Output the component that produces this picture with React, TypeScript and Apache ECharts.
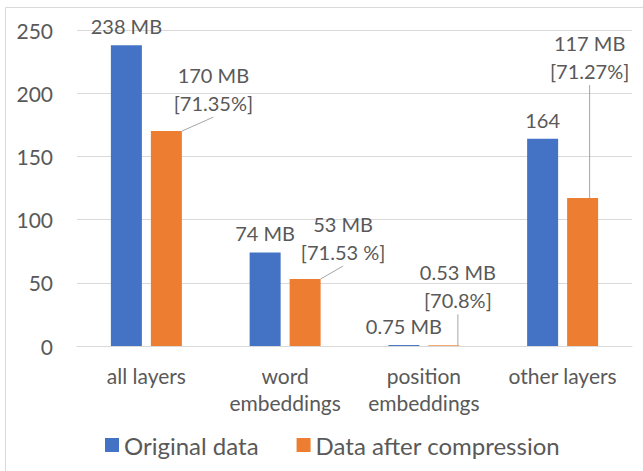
import React, { useEffect, useRef } from "react";
import * as echarts from "echarts";

const categories = ["all layers", "word\nembeddings", "position\nembeddings", "other layers"];
const originalValues = [238, 74, 0.75, 164];
const compressedValues = [170, 53, 0.53, 117];
const originalLabels = ["238 MB", "74 MB", "0.75 MB", "164"];
const compressedLabels = ["170 MB\n[71.35%]", "53 MB\n[71.53 %]", "0.53 MB\n[70.8%]", "117 MB\n[71.27%]"];
const seriesNames = ["Original data", "Data after compression"];

// label displacement (layout only)
const compressedLabelOffsets = [
  [47, -9],
  [38, -8],
  [14, -26],
  [7, -108],
];

const FONT = "Lato";
const TEXT = "#595959";

export default function App() {
  const ref = useRef<HTMLDivElement>(null);
  useEffect(() => {
    if (!ref.current) return;
    const chart = echarts.init(ref.current, null, { renderer: "svg" });
    chart.setOption({
      animation: false,
      backgroundColor: "#ffffff",
      textStyle: { fontFamily: FONT, color: TEXT },
      graphic: [
        {
          type: "rect",
          shape: { x: 5.5, y: 7.5, width: 700, height: 500 },
          style: { fill: "none", stroke: "#D9D9D9", lineWidth: 1 },
          silent: true,
        },
      ],
      grid: { left: 77, right: 11, top: 30, bottom: 125 },
      legend: {
        bottom: 9,
        left: 100,
        icon: "rect",
        itemWidth: 14,
        itemHeight: 14,
        itemGap: 38,
        textStyle: { fontFamily: FONT, fontSize: 24, color: TEXT },
        data: seriesNames,
      },
      xAxis: {
        type: "category",
        data: categories,
        axisLine: { show: true, lineStyle: { color: "#D9D9D9", width: 1 } },
        axisTick: { show: false },
        axisLabel: {
          fontFamily: FONT,
          fontSize: 21,
          color: TEXT,
          lineHeight: 27,
          margin: 16,
          interval: 0,
        },
      },
      yAxis: {
        type: "value",
        min: 0,
        max: 250,
        interval: 50,
        axisLine: { show: false },
        axisTick: { show: false },
        splitLine: { lineStyle: { color: "#D9D9D9", width: 1 } },
        axisLabel: { fontFamily: FONT, fontSize: 21, color: TEXT, margin: 24 },
      },
      series: [
        {
          name: seriesNames[0],
          type: "bar",
          data: originalValues,
          barWidth: 31,
          barGap: "29%",
          itemStyle: { color: "#4472C4" },
          label: {
            show: true,
            position: "top",
            distance: 9,
            fontFamily: FONT,
            fontSize: 20,
            color: TEXT,
            formatter: (p: any) => originalLabels[p.dataIndex],
          },
        },
        {
          name: seriesNames[1],
          type: "bar",
          data: compressedValues,
          barWidth: 31,
          itemStyle: { color: "#ED7D31" },
          label: {
            show: true,
            position: "top",
            distance: 5,
            fontFamily: FONT,
            fontSize: 20,
            lineHeight: 28,
            color: TEXT,
            formatter: (p: any) => compressedLabels[p.dataIndex],
          },
          labelLine: {
            show: true,
            lineStyle: { color: "#A6A6A6", width: 1 },
          },
          labelLayout: (p: any) => {
            const o = compressedLabelOffsets[p.dataIndex] || [0, 0];
            return { dx: o[0], dy: o[1] };
          },
        },
      ],
    });
    return () => chart.dispose();
  }, []);
  return (
    <div
      ref={ref}
      style={{ position: "fixed", left: 0, top: 0, width: 643, height: 471 }}
    />
  );
}
